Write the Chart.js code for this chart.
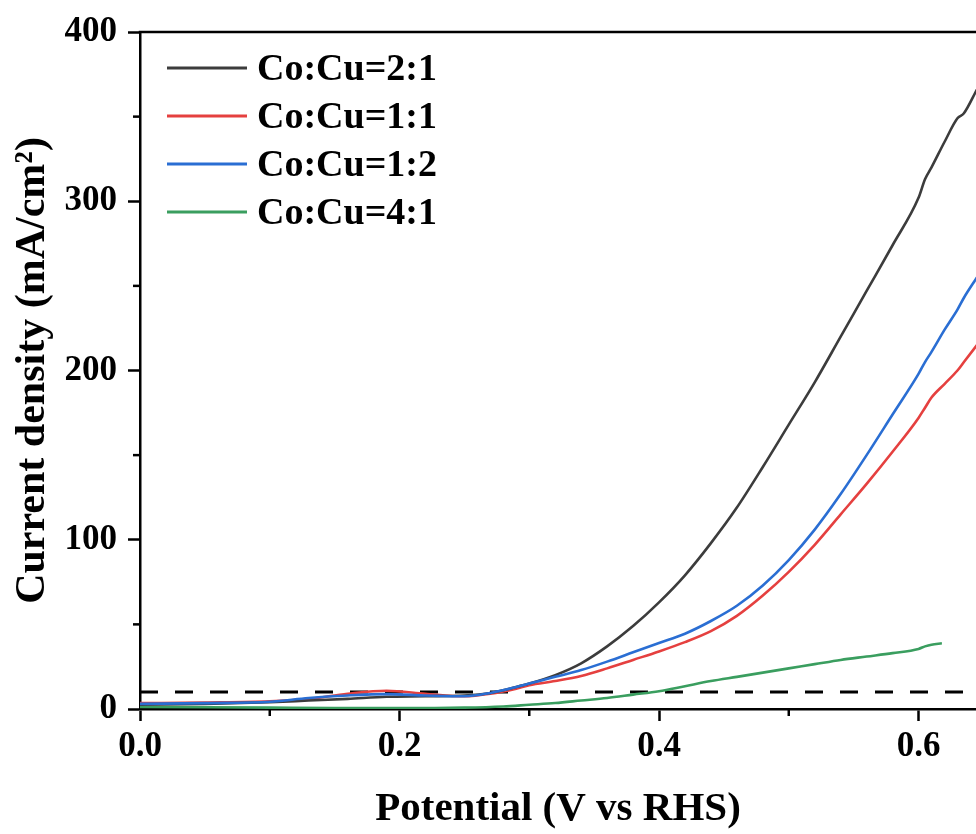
<!DOCTYPE html>
<html>
<head>
<meta charset="utf-8">
<script src="https://cdn.jsdelivr.net/npm/chart.js@4.4.1/dist/chart.umd.min.js"></script>
<style>
  html, body { margin: 0; padding: 0; background: #ffffff; }
  #wrap { width: 976px; height: 834px; }
</style>
</head>
<body>
<div id="wrap"><canvas id="c" width="976" height="834"></canvas></div>
<script>
// ---- data ----
const seriesNames = ['Co:Cu=2:1', 'Co:Cu=1:1', 'Co:Cu=1:2', 'Co:Cu=4:1'];
const seriesColors = ['#3c3c3c', '#e5403f', '#2a6ed3', '#3a9e5f'];

const potential = [0.00, 0.05, 0.10, 0.13, 0.16, 0.19, 0.22, 0.25, 0.27, 0.29, 0.30, 0.32, 0.34, 0.36, 0.38, 0.40, 0.42, 0.44, 0.46, 0.48, 0.50, 0.52, 0.54, 0.56, 0.58, 0.60, 0.605, 0.61, 0.62, 0.63, 0.635, 0.645];
const current21 = [2.5, 3, 4, 5, 6, 7.2, 7.5, 8, 9.5, 13, 15, 20, 27, 37, 49, 63, 79, 98, 119, 143, 168, 193, 220, 247, 274, 302, 313, 320, 335, 349, 352, 366];
const current11 = [3.5, 3.8, 4.5, 6, 9, 10.8, 9, 7.5, 9, 12, 14, 16.5, 19.5, 24, 29, 34, 39.5, 46, 55, 67, 81, 97, 115, 133, 152, 172, 178, 184, 192, 200, 205, 215];
const current12 = [3, 3.5, 4.3, 6.5, 8, 8.8, 8, 7.5, 9.5, 13, 15, 19, 23, 28, 33.5, 39, 44.5, 52, 61, 73, 88, 106, 127, 150, 174, 198, 205, 211, 224, 236, 243, 255];

const potential41 = [0.00, 0.05, 0.10, 0.15, 0.20, 0.25, 0.28, 0.30, 0.32, 0.34, 0.36, 0.38, 0.40, 0.42, 0.44, 0.46, 0.48, 0.50, 0.52, 0.54, 0.56, 0.58, 0.60, 0.605, 0.61, 0.618];
const current41 = [1.2, 1.0, 0.8, 0.6, 0.5, 0.8, 1.5, 2.5, 3.5, 5, 6.5, 8.5, 10.5, 13.5, 16.5, 19, 21.5, 24, 26.5, 29, 31, 33, 35.5, 37, 38, 38.8];

const refLevel = 10;           // dashed reference line (mA/cm2)
const xTickStep = 0.2;
const yTickStep = 100;
const xMinor = [0.1, 0.3, 0.5];
const yMinor = [50, 150, 250, 350];
const xMin = 0, xMax = 0.6443;
const yMin = 0, yMax = 400;

// ---- helpers ----
const pts = (xs, ys) => xs.map((x, i) => ({ x: x, y: ys[i] }));
const FONT = 'Liberation Serif';

const curveSets = [current21, current11, current12];
const datasets = [];
for (let i = 0; i < 3; i++) {
  datasets.push({
    label: seriesNames[i],
    data: pts(potential, curveSets[i]),
    borderColor: seriesColors[i],
    backgroundColor: seriesColors[i],
    borderWidth: 2.6,
    pointRadius: 0,
    cubicInterpolationMode: 'monotone',
    fill: false,
    order: i === 2 ? 0 : i + 1
  });
}
datasets.push({
  label: seriesNames[3],
  data: pts(potential41, current41),
  borderColor: seriesColors[3],
  backgroundColor: seriesColors[3],
  borderWidth: 2.6,
  pointRadius: 0,
  cubicInterpolationMode: 'monotone',
  fill: false,
  order: 4
});
datasets.push({
  label: 'ref',
  data: [{ x: xMin, y: refLevel }, { x: xMax, y: refLevel }],
  borderColor: '#000000',
  borderWidth: 3,
  borderDash: [18, 17],
  pointRadius: 0,
  fill: false,
  order: 5
});

// custom legend + frame + minor ticks
const decorPlugin = {
  id: 'decor',
  afterDraw(chart) {
    const ctx = chart.ctx;
    const area = chart.chartArea;
    const xs = chart.scales.x, ys = chart.scales.y;
    ctx.save();
    // top frame line
    ctx.strokeStyle = '#000';
    ctx.lineWidth = 2.5;
    ctx.beginPath();
    ctx.moveTo(area.left - 1.25, area.top);
    ctx.lineTo(area.right, area.top);
    ctx.stroke();
    // minor ticks
    xMinor.forEach(v => {
      const px = xs.getPixelForValue(v);
      ctx.beginPath();
      ctx.moveTo(px, area.bottom);
      ctx.lineTo(px, area.bottom + 7);
      ctx.stroke();
    });
    yMinor.forEach(v => {
      const py = ys.getPixelForValue(v);
      ctx.beginPath();
      ctx.moveTo(area.left, py);
      ctx.lineTo(area.left - 7, py);
      ctx.stroke();
    });
    // legend
    const rowY = [68, 116, 164, 212];
    ctx.font = 'bold 38px "' + FONT + '"';
    ctx.textBaseline = 'middle';
    ctx.textAlign = 'left';
    for (let i = 0; i < 4; i++) {
      const ds = chart.data.datasets[i];
      ctx.strokeStyle = ds.borderColor;
      ctx.lineWidth = 3;
      ctx.beginPath();
      ctx.moveTo(area.left + 27, rowY[i]);
      ctx.lineTo(area.left + 107, rowY[i]);
      ctx.stroke();
      ctx.fillStyle = '#000';
      ctx.fillText(ds.label, area.left + 117, rowY[i] + 2);
    }
    ctx.restore();
  }
};

new Chart(document.getElementById('c'), {
  type: 'line',
  data: { datasets: datasets },
  plugins: [decorPlugin],
  options: {
    responsive: false,
    animation: false,
    layout: { padding: { top: 29, right: 0, left: 0, bottom: 0 } },
    plugins: {
      legend: { display: false },
      tooltip: { enabled: false }
    },
    scales: {
      x: {
        type: 'linear',
        min: xMin,
        max: xMax,
        ticks: {
          stepSize: xTickStep,
          includeBounds: false,
          autoSkip: false,
          maxRotation: 0,
          padding: 5,
          color: '#000',
          font: { family: FONT, size: 35, weight: 'bold' },
          callback: v => Number(v).toFixed(1)
        },
        grid: {
          display: true, drawOnChartArea: false, drawTicks: true,
          tickLength: 12, tickWidth: 2.5, tickColor: '#000'
        },
        border: { display: true, color: '#000', width: 2.5 },
        title: {
          display: true, text: 'Potential (V vs RHS)', color: '#000',
          font: { family: FONT, size: 41, weight: 'bold' },
          padding: { top: 0, bottom: 0 }
        },
        afterFit: s => { s.height = 125; }
      },
      y: {
        type: 'linear',
        min: yMin,
        max: yMax,
        ticks: {
          stepSize: yTickStep,
          includeBounds: false,
          padding: 11,
          color: '#000',
          font: { family: FONT, size: 35, weight: 'bold' },
          callback: v => String(Math.round(v))
        },
        grid: {
          display: true, drawOnChartArea: false, drawTicks: true,
          tickLength: 12, tickWidth: 2.5, tickColor: '#000'
        },
        border: { display: true, color: '#000', width: 2.5 },
        title: {
          display: true, text: 'Current density (mA/cm\u00B2)', color: '#000',
          font: { family: FONT, size: 42, weight: 'bold' },
          padding: { top: 8, bottom: 0 }
        },
        afterFit: s => { s.width = 140; }
      }
    }
  }
});
</script>
</body>
</html>
